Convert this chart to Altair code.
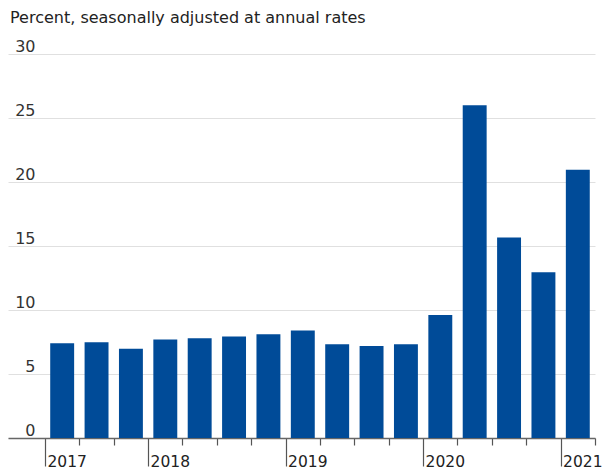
import altair as alt
import pandas as pd

# ---- data ----
quarters = ["2017 Q2", "2017 Q3", "2017 Q4",
            "2018 Q1", "2018 Q2", "2018 Q3", "2018 Q4",
            "2019 Q1", "2019 Q2", "2019 Q3", "2019 Q4",
            "2020 Q1", "2020 Q2", "2020 Q3", "2020 Q4",
            "2021 Q1"]
values = [7.40, 7.48, 6.98,
          7.69, 7.79, 7.92, 8.10,
          8.39, 7.33, 7.19, 7.33,
          9.60, 26.0, 15.67, 12.94,
          20.96]
y_ticks = [0, 5, 10, 15, 20, 25, 30]
year_labels = ["2017", "2018", "2019", "2020", "2021"]
title_text = "Percent, seasonally adjusted at annual rates"

# quarter start as fractional year
starts = [int(q[:4]) + (int(q[-1]) - 1) / 4 for q in quarters]
df = pd.DataFrame({"quarter": quarters, "start": starts, "value": values})

# tick positions at quarter boundaries
tick_vals = starts + [starts[-1] + 0.25]
# year label positions: first boundary of each year present
year_pos = []
for yl in year_labels:
    ys = [s for s in starts if int(s) == int(yl)]
    year_pos.append(min(ys))

label_expr = " : ".join(
    f"datum.value == {p} ? '{l}'" for p, l in zip(year_pos, year_labels)
) + " : ''"
long_test = " || ".join(f"datum.value == {p}" for p in year_pos)

FONT = "DejaVu Sans"
BLUE = "#004B98"

x_scale = alt.Scale(domain=[starts[0] - 0.269, starts[-1] + 0.25], nice=False, zero=False)

base = alt.Chart(df).transform_calculate(
    x0="datum.start + 0.038",
    x1="datum.start + 0.212",
)

bars = base.mark_bar(color=BLUE).encode(
    x=alt.X("x0:Q", scale=x_scale,
            axis=alt.Axis(values=tick_vals, labelExpr=label_expr, title=None,
                          grid=False, domain=True, domainColor="#666666", domainWidth=1.5,
                          ticks=True, tickColor="#555555", tickWidth=1.2,
                          tickSize={"condition": {"test": long_test, "value": 28}, "value": 7},
                          labelAlign="left", labelOffset=2, labelBaseline="top",
                          labelPadding=-12, labelFont=FONT, labelFontSize=15.5,
                          labelColor="#222222", labelFlush=False, labelOverlap=False)),
    x2="x1:Q",
    y=alt.Y("value:Q", scale=alt.Scale(domain=[0, 30], nice=False),
            axis=alt.Axis(values=y_ticks, title=None, domain=False, ticks=False, tickSize=0,
                          grid=True, gridColor="#e0e0e0", gridWidth=1,
                          labelAlign="right", labelPadding=-27, labelBaseline="alphabetic",
                          labelOffset=-3, labelFont=FONT, labelFontSize=16,
                          labelColor="#333333")),
    y2=alt.datum(0),
)

chart = bars.properties(
    width=587, height=384,
    autosize=alt.AutoSizeParams(type="none"),
    padding={"left": 8, "top": 54, "right": 8, "bottom": 34},
    title=alt.TitleParams(title_text, anchor="start", frame="group", font=FONT,
                          fontSize=16, fontWeight="normal", color="#222222",
                          offset=12, dx=2),
).configure_view(stroke=None)

chart.save("out.html", embed_options={"renderer": "svg", "actions": False})
